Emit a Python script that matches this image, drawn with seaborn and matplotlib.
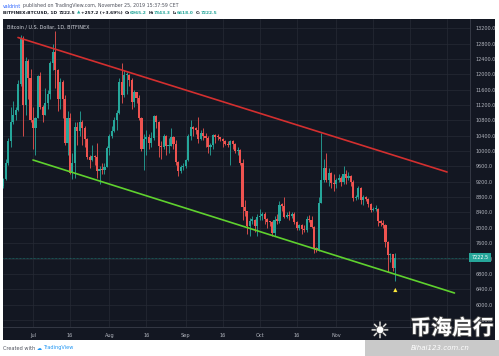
import matplotlib
matplotlib.use("Agg")
import matplotlib.pyplot as plt
import matplotlib.dates as mdates
import matplotlib.transforms as mtransforms
import matplotlib.patheffects as pe
from matplotlib.patches import Rectangle
import numpy as np
import pandas as pd
import seaborn as sns

# ---------------- data ----------------
dates = pd.date_range("2019-06-19", "2019-11-25", freq="D")

opens = [9080, 9280, 9700, 10250, 10750, 10950, 11080, 11750, 12930, 11200, 12350, 11900,
         10800, 10600, 10850, 11950, 11150, 10950, 11250, 11480, 12300, 12570, 12100, 11350, 11800, 11370, 10200, 10850,
         9430, 9680, 10630, 10530, 10760, 10590, 10320, 9850, 9770, 9880, 9850, 9480, 9530, 9500, 9590,
         10090, 10400, 10520, 10820, 10980, 11800, 11460, 11980, 11990, 11850, 11280, 11530, 11390, 10870, 10050,
         10310, 10370, 10220, 10340, 10910, 10760, 10130, 10100, 10400, 10130, 10140, 10360, 10180, 9720, 9490, 9580,
         9600, 9770, 10390, 10620, 10580, 10560, 10320, 10480, 10400, 10330, 10110, 10160, 10420, 10370, 10360,
         10310, 10270, 10190, 10160, 10270, 10180, 9990, 10030, 9700, 8530, 8430, 8060, 8190, 8200, 8040,
         8290, 8320, 8370, 8230, 8150, 8140, 7870, 8200, 8190, 8590, 8580, 8270, 8330, 8300, 8370, 8160,
         8000, 8080, 7960, 7950, 8230, 8210, 8030, 7470, 7420, 8660, 9240, 9550, 9250, 9430, 9180,
         9150, 9250, 9310, 9190, 9400, 9310, 9340, 9200, 8770, 8800, 9030, 8730, 8810, 8760, 8630,
         8460, 8490, 8500, 8170, 8120, 8080, 7620, 7280, 7320, 6965.2]
closes = opens[1:] + [7222.5]
highs = [9310, 9800, 10350, 11150, 11300, 11150, 11850, 13030, 13000, 12450, 12400, 12150,
         11150, 10900, 11980, 12050, 11200, 11650, 11600, 12350, 12800, 13130, 12150, 11900, 11850, 11450, 11050,
         11000, 9950, 10750, 10750, 11050, 10800, 10650, 10330, 9900, 10150, 9900, 10200, 9600, 9700, 9700, 10120,
         10450, 10650, 10900, 11080, 11900, 12300, 12100, 12050, 12000, 11900, 11600, 11550, 11450, 10900,
         10450, 10550, 10450, 10500, 10950, 10950, 10780, 10250, 10450, 10420, 10350, 10600, 10400, 10280, 9750, 9650, 9700,
         9800, 10450, 10800, 10650, 10620, 10900, 10550, 10600, 10470, 10400, 10200, 10450, 10450, 10450,
         10380, 10350, 10280, 10250, 10300, 10300, 10200, 10100, 10050, 9800, 8730, 8450, 8250, 8300, 8220, 8350,
         8500, 8400, 8400, 8250, 8180, 8170, 8300, 8350, 8700, 8650, 8800, 8400, 8450, 8400, 8400,
         8170, 8100, 8100, 8080, 8300, 8330, 8300, 8050, 7500, 8800, 10480, 9800, 9950, 9550, 9450, 9400,
         9300, 9400, 9350, 9600, 9500, 9450, 9380, 9250, 8850, 9100, 9070, 8850, 8820, 8790,
         8650, 8530, 8600, 8520, 8200, 8200, 8100, 7650, 7350, 7330, 7343.3]
lows = [9040, 9250, 9650, 10100, 10700, 10800, 11050, 11700, 10400, 10950, 11350, 10750,
        10050, 9900, 10850, 11100, 10750, 10950, 11100, 11350, 12100, 11650, 11050, 11100, 10850, 10150, 9900,
        9400, 9280, 9300, 10150, 10400, 10150, 10100, 9800, 9550, 9750, 9650, 9300, 9150, 9400, 9400, 9580,
        9900, 10350, 10500, 10550, 10970, 11250, 11400, 11500, 11700, 11100, 11150, 11250, 10800, 10000,
        9500, 9900, 10050, 10100, 10280, 10600, 9850, 9800, 10050, 9900, 9950, 10130, 10050, 9650, 9350, 9420, 9500,
        9550, 9750, 10300, 10400, 10450, 10200, 10300, 10300, 10100, 9950, 9900, 10050, 10200, 10300,
        10250, 10100, 10150, 10100, 9650, 10050, 9950, 9900, 9650, 8200, 8300, 7850, 7800, 8100, 7900, 7780,
        8200, 8200, 8100, 8000, 8050, 7800, 7800, 8100, 8120, 8450, 8250, 8250, 8200, 8250, 8100,
        7950, 7950, 7850, 7900, 7900, 8150, 8000, 7350, 7380, 7400, 8650, 9200, 9200, 9100, 9050, 8950,
        9050, 9200, 9100, 9150, 9150, 9250, 9100, 8700, 8720, 8750, 8620, 8600, 8700, 8550,
        8400, 8430, 8450, 8050, 8050, 8000, 7500, 6850, 7100, 6880, 6618.0]

price_ticks = list(range(5600, 13201, 400))
date_ticks = ["2019-07-01", "2019-07-16", "2019-08-01", "2019-08-16", "2019-09-01", "2019-09-16",
              "2019-10-01", "2019-10-16", "2019-11-01", "2019-11-16", "2019-12-01", "2019-12-16"]
# labels after "Nov" are hidden under the watermark in the reference
date_labels = ["Jul", "16", "Aug", "16", "Sep", "16", "Oct", "16", "Nov", "", "", ""]

resist_dates = ["2019-06-24 22:00", "2019-12-16 00:00"]
resist_prices = [12960, 9455]
support_dates = ["2019-07-01 00:00", "2019-12-19 00:00"]
support_prices = [9768, 6302]

last_price = 7222.5
signal_date = "2019-11-25"
signal_price = 6380

# ---------------- style ----------------
W, H = 499, 356
BG = "#131722"
GRID = "#262a35"
UP = "#26a69a"
DOWN = "#ef5350"
TXT = "#b2b5be"

sns.set_style("dark", {"axes.facecolor": BG, "grid.color": GRID})
plt.rcParams["font.family"] = ["DejaVu Sans"]

fig = plt.figure(figsize=(W / 100, H / 100), dpi=100)
fig.patch.set_facecolor("white")

# dark chart frame (plot + axes strips)
fig.add_artist(Rectangle((3 / W, 1 - 340 / H), 492 / W, 321 / H, transform=fig.transFigure,
                         facecolor=BG, edgecolor="none", zorder=0))

ax = fig.add_axes([3 / W, 1 - 327 / H, 467 / W, 308 / H])
ax.set_facecolor(BG)

df = pd.DataFrame({"date": dates, "open": opens, "high": highs, "low": lows, "close": closes})
df["up"] = df["close"] >= df["open"]
colors = np.where(df["up"], UP, DOWN)
body = (df["close"] - df["open"]).abs().clip(lower=30)
bottom = df[["open", "close"]].min(axis=1)

ax.vlines(df["date"], df["low"], df["high"], colors=colors, lw=0.6, zorder=3)
ax.bar(df["date"], body, bottom=bottom, width=0.86, color=colors, edgecolor="none", zorder=4)

# trend lines
tl = pd.DataFrame({"date": pd.to_datetime(resist_dates), "price": resist_prices})
sl = pd.DataFrame({"date": pd.to_datetime(support_dates), "price": support_prices})
sns.lineplot(data=tl, x="date", y="price", color="#d32f2f", lw=1.2, ax=ax, zorder=5)
sns.lineplot(data=sl, x="date", y="price", color="#5fd12e", lw=1.2, ax=ax, zorder=5)

# current price line and signal marker
ax.axhline(last_price, color=UP, lw=0.5, ls=(0, (1, 1)), alpha=0.8, zorder=2)
ax.scatter([pd.Timestamp(signal_date)], [signal_price], marker="^", s=9, color="#ffeb3b",
           edgecolor="none", zorder=6)

x0 = mdates.date2num(pd.Timestamp("2019-07-01"))
ax.set_xlim(x0 - 12.17, x0 + 177.3)
ax.set_ylim(5416, 13442)

ax.set_yticks(price_ticks)
ax.set_yticklabels([f"{p:.1f}" for p in price_ticks])
ax.yaxis.tick_right()
ax.set_xticks([mdates.date2num(pd.Timestamp(d)) for d in date_ticks])
ax.set_xticklabels(date_labels)
ax.tick_params(axis="y", length=0, pad=4, labelsize=3.5, labelcolor=TXT)
ax.tick_params(axis="x", length=0, pad=4.5, labelsize=3.6, labelcolor=TXT)
ax.grid(True, color=GRID, lw=0.5)
ax.set_xlabel("")
ax.set_ylabel("")
for s in ["top", "left"]:
    ax.spines[s].set_visible(False)
for s in ["right", "bottom"]:
    ax.spines[s].set_color("#3a3e4a")
    ax.spines[s].set_linewidth(0.6)

# last price label on the price scale
trans = mtransforms.blended_transform_factory(ax.transAxes, ax.transData)
ax.text(1.003, last_price, "7222.5", transform=trans, ha="left", va="center", fontsize=3.5,
        color="white", zorder=10, clip_on=False,
        bbox=dict(boxstyle="square,pad=0.45", facecolor=UP, edgecolor="none"))

# chart title inside
ax.text(0.009, 0.975, "Bitcoin / U.S. Dollar, 1D, BITFINEX", transform=ax.transAxes,
        fontsize=3.5, color="#d1d4dc", ha="left", va="center")

# ---------------- header / footer text ----------------
renderer = fig.canvas.get_renderer()


def segments(x_px, y_px, parts, size, weight="normal"):
    x = x_px
    for txt, color, gap in parts:
        t = fig.text(x / W, 1 - y_px / H, txt, color=color, fontsize=size, weight=weight,
                     ha="left", va="center")
        x += t.get_window_extent(renderer).width + gap


segments(3, 6, [("valdrint", "#2962ff", 1.3),
                ("published on TradingView.com, November 25, 2019 15:37:59 CET", "#50535e", 0)], 3.45)
segments(3, 13, [("BITFINEX:BTCUSD, 1D", "#131722", 1.5), ("7222.5", "#131722", 1.3),
                 ("▲", UP, 1.3), ("+257.2 (+3.69%)", "#131722", 1.5),
                 ("O:", "#131722", 0.3), ("6965.2", UP, 1.5),
                 ("H:", "#131722", 0.3), ("7343.3", UP, 1.5),
                 ("L:", "#131722", 0.3), ("6618.0", UP, 1.5),
                 ("C:", "#131722", 0.3), ("7222.5", UP, 0)], 3.2, "bold")
segments(3, 348, [("Created with", "#50535e", 1.5), ("☁", "#2196f3", 1.2),
                  ("TradingView", "#2196f3", 0)], 3.6)

# watermark (bottom-right)
fig.add_artist(Rectangle((365 / W, 0), 134 / W, 16 / H, transform=fig.transFigure,
                         facecolor="#c9c9c9", edgecolor="none", zorder=20))
fig.text(452 / W, 1 - 328 / H, "币海启行", fontsize=15, weight="bold", style="italic", color="white",
         family=["Noto Sans CJK SC", "DejaVu Sans"], ha="center", va="center", zorder=21,
         path_effects=[pe.withStroke(linewidth=1.2, foreground="#555555")])
fig.text(440 / W, 1 - 348 / H, "Bihai123.com.cn", fontsize=5, style="italic", color="white",
         ha="center", va="center", zorder=21)
fig.text(380 / W, 1 - 332 / H, "☀", fontsize=16, color="white", ha="center", va="center", zorder=21,
         path_effects=[pe.withStroke(linewidth=0.8, foreground="#666666")])

fig.savefig("out.png", dpi=100, facecolor=fig.get_facecolor())
